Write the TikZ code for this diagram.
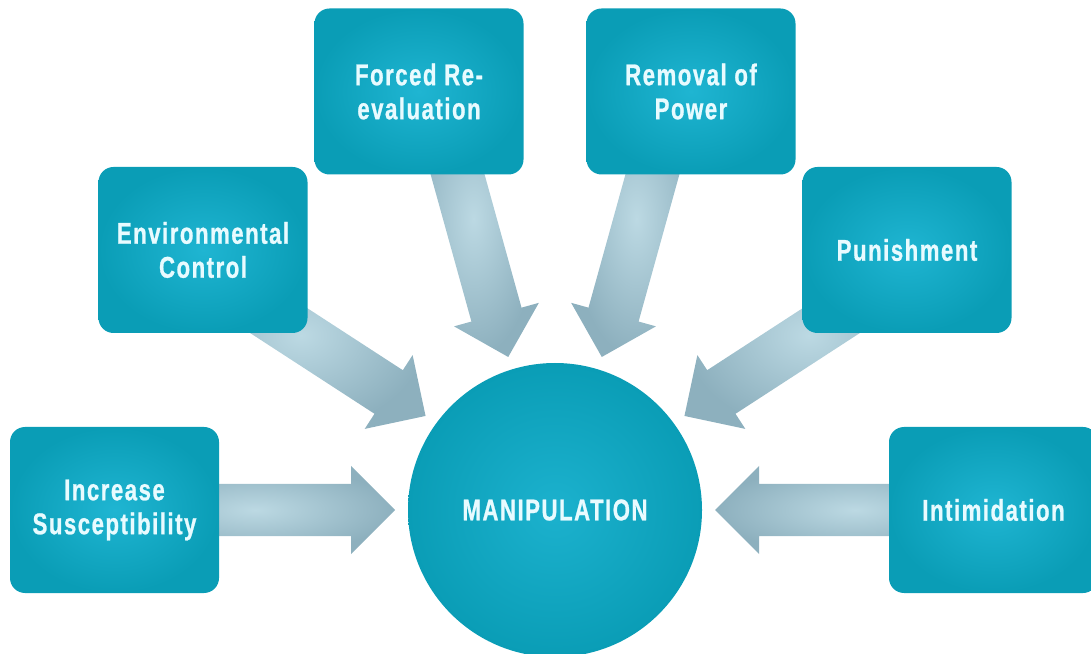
\documentclass[tikz,border=0pt]{standalone}
\usepackage{fontspec}
\newfontfamily\labelfont{Liberation Sans}[FakeStretch=0.74,LetterSpace=5,FakeBold=0.8]
\usetikzlibrary{calc,backgrounds}

\definecolor{tealedge}{HTML}{0A9DB6}
\definecolor{tealmid}{HTML}{1FB5D2}
\definecolor{flowedge}{HTML}{8DB0BE}
\definecolor{flowmid}{HTML}{BCD9E3}
\definecolor{labeltext}{HTML}{E8FBFF}

% block arrow from #1 (tail) to #2 (tip)
\newcommand{\fatarrow}[2]{%
  \coordinate (fa-base) at ($(#2)!44pt!(#1)$);
  \shade[flow]
    ($(#1)!26pt!90:(#2)$) -- ($(fa-base)!26pt!90:(#2)$)
    -- ($(fa-base)!44pt!90:(#2)$) -- (#2)
    -- ($(fa-base)!44pt!-90:(#2)$) -- ($(fa-base)!26pt!-90:(#2)$)
    -- ($(#1)!26pt!-90:(#2)$) -- cycle;
}

\begin{document}
\begin{tikzpicture}[
  x=1pt, y=1pt,
  box/.style={
    rectangle, rounded corners=15pt,
    minimum width=209pt, minimum height=166pt,
    inner color=tealmid, outer color=tealedge,
    text=labeltext, align=center,
    font=\labelfont\bfseries\fontsize{30}{34}\selectfont
  },
  hub/.style={
    circle, minimum size=294pt, inner sep=0pt,
    inner color=tealmid!85!tealedge, outer color=tealedge,
    text=labeltext,
    font=\labelfont\bfseries\fontsize{30}{34}\selectfont
  },
  flow/.style={inner color=flowmid, outer color=flowedge},
]
\useasboundingbox (0,0) rectangle (1091,653);
\clip (0,0) rectangle (1091,653);

% =========================== centre ===============================
\node[hub] (hub) at (555,143) {MANIPULATION};

% =========================== causes ===============================
\node[box] (incr)    at (114.5,143)  {Increase\\Susceptibility};
\node[box] (env)     at (203,403)    {Environmental\\Control};
\node[box] (forced)  at (419,561.5)  {Forced Re-\\evaluation};
\node[box] (removal) at (691,561.5)  {Removal of\\Power};
\node[box] (punish)  at (907,403)    {Punishment};
\node[box] (intim)   at (993.5,143)  {Intimidation};

% arrow ends: tips round the hub, tails hidden behind the boxes
\foreach \n/\a/\b in {incr/180/180, env/144/147, forced/107/105.5,
                      removal/73/74.5, punish/36/33, intim/0/0}{
  \coordinate (\n-tip)  at ($(hub.center)+(\a:160)$);
  \coordinate (\n-tail) at ($(\n-tip)+(\b:280)$);
}

\begin{pgfonlayer}{background}
  \foreach \n in {incr,env,forced,removal,punish,intim}{
    \fatarrow{\n-tail}{\n-tip}
  }
\end{pgfonlayer}

\end{tikzpicture}
\end{document}
